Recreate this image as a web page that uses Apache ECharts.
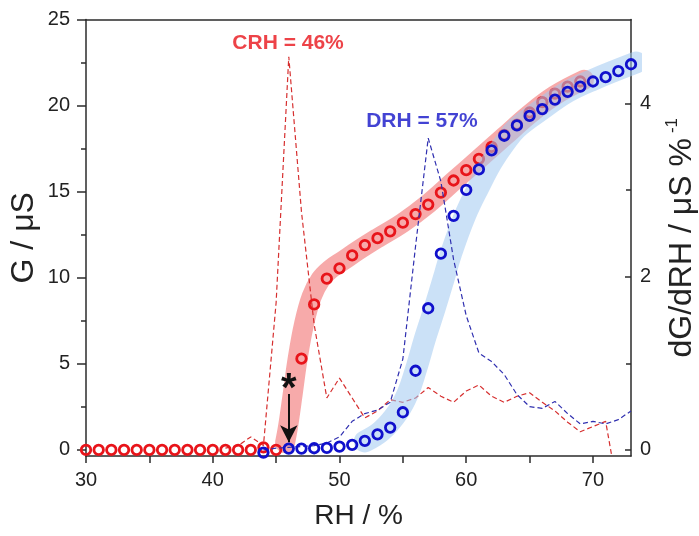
<!DOCTYPE html>
<html>
<head>
<meta charset="utf-8">
<script src="https://cdn.jsdelivr.net/npm/echarts@6/dist/echarts.min.js"></script>
<style>html,body{margin:0;padding:0;background:#fff}#c{width:699px;height:536px}</style>
</head>
<body>
<div id="c"></div>
<script>
// ---- data ----
const rhRed = [30,31,32,33,34,35,36,37,38,39,40,41,42,43,44,45,47,48,49,50,51,52,53,54,55,56,57,58,59,60,61,62,63,64,65,66,67,68,69];
const gRed  = [0,0,0,0,0,0,0,0,0,0,0,0,0,0,0.15,0,5.3,8.45,9.95,10.55,11.3,11.9,12.3,12.7,13.2,13.7,14.25,14.95,15.65,16.25,16.9,17.6,18.3,18.9,19.6,20.2,20.7,21.1,21.4];
const rhBlue = [44,46,47,48,49,50,51,52,53,54,55,56,57,58,59,60,61,62,63,64,65,66,67,68,69,70,71,72,73];
const gBlue  = [-0.15,0.08,0.08,0.1,0.12,0.2,0.3,0.53,0.91,1.3,2.19,4.6,8.23,11.4,13.6,15.1,16.3,17.4,18.25,18.85,19.4,19.8,20.35,20.8,21.1,21.4,21.65,22.0,22.4];
const rhDRed = [41,42,43,44,45,46,47,48,49,50,51,52,53,54,55,56,57,58,59,60,61,62,63,64,65,66,67,68,69,70,71,72];
const dRed   = [0.02,0.05,0.15,0.05,1.7,4.54,2.75,1.45,0.6,0.83,0.6,0.37,0.45,0.58,0.55,0.6,0.72,0.62,0.55,0.68,0.75,0.62,0.55,0.62,0.66,0.55,0.45,0.32,0.21,0.27,0.33,-0.5];
const rhDBlue = [44,45,46,47,48,49,50,51,52,53,54,55,56,57,58,59,60,61,62,63,64,65,66,67,68,69,70,71,72,73];
const dBlue   = [0,0.02,0.03,0.04,0.05,0.08,0.15,0.33,0.42,0.46,0.55,1.05,2.35,3.6,3.1,2.2,1.55,1.12,1.02,0.87,0.64,0.5,0.48,0.56,0.42,0.3,0.33,0.3,0.35,0.45];
const redBandX = [45.7,45.95,46.3,46.7,47.2,47.8,48.5,49.3,50.3,51.5,53,55,57,59,61,63,65,67,69.3];
const redBandY = [0.4,1.4,3.2,5.3,7.3,8.9,9.9,10.5,11.0,11.6,12.3,13.2,14.3,15.6,16.9,18.2,19.5,20.6,21.5];
const blueBandX = [52.0,53.3,54.6,55.4,56.0,56.8,57.5,58.2,58.8,59.9,61,62,63,64,66,68,70,73.4];
const blueBandY = [0.5,1.1,2.2,3.3,4.6,6.6,8.2,9.9,11.4,13.6,15.3,16.7,17.8,18.7,19.8,20.8,21.5,22.5];
const xTicks = [30,40,50,60,70];
const xTickMarks = [30,35,40,45,50,55,60,65,70];
const yLeftTicks = [0,5,10,15,20,25];
const yLeftMinor = [2.5,7.5,12.5,17.5,22.5];
const yRightTicks = [0,2,4];
const yRightMinor = [1,3];
const annotations = [
  {x:45.94, y:23.65, text:'CRH = 46%', color:'#e8141a'},
  {x:56.5, y:19.07, text:'DRH = 57%', color:'#1414c8'}
];
const starPos = [46, 3.5];
const arrowFrom = [46, 3.25];
const arrowTo = [46, 0.45];

const zip = (a,b) => a.map((v,i)=>[v,b[i]]);
const FONT = "'Liberation Sans', Arial, sans-serif";
const AX = '#2b2b2b';

const chart = echarts.init(document.getElementById('c'), null, {renderer:'canvas'});
const option = {
  animation: false,
  grid: {left: 86, right: 68, top: 19.5, bottom: 80, containLabel:false, outerBoundsMode:'none'},
  xAxis: [
    {type:'value', min:30, max:73, position:'bottom',
     name:'RH / %', nameLocation:'middle', nameGap:46, nameMoveOverlap:false,
     nameTextStyle:{fontFamily:FONT, fontSize:28, color:'#222'},
     axisLine:{onZero:false, lineStyle:{color:AX, width:1.5}},
     axisTick:{show:true, inside:false, length:7, customValues:xTickMarks, lineStyle:{color:AX, width:1.5}},
     axisLabel:{customValues:xTicks, margin:14, fontFamily:FONT, fontSize:20, color:'#222'},
     splitLine:{show:false}},
    {type:'value', min:30, max:73, position:'top',
     axisLine:{onZero:false, lineStyle:{color:AX, width:1.5}},
     axisTick:{show:false}, axisLabel:{show:false}, splitLine:{show:false}}
  ],
  yAxis: [
    {type:'value', min:-0.35, max:25, position:'left',
     name:'G / μS', nameLocation:'middle', nameGap:46, nameRotate:90, nameMoveOverlap:false,
     nameTextStyle:{fontFamily:FONT, fontSize:32, color:'#222'},
     axisLine:{show:true, onZero:false, lineStyle:{color:AX, width:1.5}},
     axisTick:{show:true, inside:false, length:9, customValues:yLeftTicks, lineStyle:{color:AX, width:1.5}},
     axisLabel:{customValues:yLeftTicks, margin:16, fontFamily:FONT, fontSize:20, color:'#222'},
     splitLine:{show:false}},
    {type:'value', min:-0.07, max:4.97, position:'right',
     name:'{m|dG/dRH / μS %}{s|-1}', nameLocation:'middle', nameGap:33, nameRotate:90, nameMoveOverlap:false,
     nameTextStyle:{fontFamily:FONT, fontSize:32, color:'#222',
       rich:{m:{fontFamily:FONT, fontSize:32, color:'#222'}, s:{fontFamily:FONT, fontSize:17, color:'#222', verticalAlign:'top', padding:[0,0,20,5]}}},
     axisLine:{show:true, onZero:false, lineStyle:{color:AX, width:1.5}},
     axisTick:{show:true, inside:true, length:6, customValues:yRightTicks, lineStyle:{color:AX, width:1.5}},
     axisLabel:{customValues:yRightTicks, margin:9, fontFamily:FONT, fontSize:20, color:'#222'},
     splitLine:{show:false}},
    {type:'value', min:-0.35, max:25, position:'left',
     axisLine:{show:false}, axisLabel:{show:false}, splitLine:{show:false},
     axisTick:{show:true, inside:false, length:5, customValues:yLeftMinor, lineStyle:{color:AX, width:1.5}}},
    {type:'value', min:-0.07, max:4.97, position:'right',
     axisLine:{show:false}, axisLabel:{show:false}, splitLine:{show:false},
     axisTick:{show:true, inside:true, length:5, customValues:yRightMinor, lineStyle:{color:AX, width:1.5}}}
  ],
  series: [
    {name:'redBand', type:'line', xAxisIndex:0, yAxisIndex:0, data:zip(redBandX, redBandY),
     smooth:0.4, showSymbol:false, symbol:'none', silent:true,
     lineStyle:{color:'rgba(240,100,100,0.55)', width:20, cap:'round', join:'round'}, z:1},
    {name:'redDash', type:'line', xAxisIndex:0, yAxisIndex:1, data:zip(rhDRed, dRed),
     symbol:'none', silent:true, clip:true,
     lineStyle:{color:'#d62f2f', width:1.2, type:[5,3]}, z:2},
    {name:'redG', type:'scatter', xAxisIndex:0, yAxisIndex:0, data:zip(rhRed, gRed),
     symbol:'circle', symbolSize:9.5, itemStyle:{color:'rgba(255,255,255,0)', borderColor:'#e8141a', borderWidth:2.8, opacity:1}, z:3},
    {name:'blueBand', type:'line', xAxisIndex:0, yAxisIndex:0, data:zip(blueBandX, blueBandY),
     smooth:0.4, showSymbol:false, symbol:'none', silent:true,
     lineStyle:{color:'rgba(160,200,240,0.55)', width:22, cap:'round', join:'round'}, z:4},
    {name:'blueDash', type:'line', xAxisIndex:0, yAxisIndex:1, data:zip(rhDBlue, dBlue),
     symbol:'none', silent:true, clip:true,
     lineStyle:{color:'#3030b0', width:1.2, type:[5,3]}, z:5},
    {name:'blueG', type:'scatter', xAxisIndex:0, yAxisIndex:0, data:zip(rhBlue, gBlue),
     symbol:'circle', symbolSize:9.5, clip:false, itemStyle:{color:'rgba(255,255,255,0)', borderColor:'#1010cc', borderWidth:2.8, opacity:1}, z:6},
    {name:'notes', type:'scatter', xAxisIndex:0, yAxisIndex:0, silent:true, z:8,
     data: annotations.map(a => ({value:[a.x, a.y], label:{color:a.color}, name:a.text})),
     symbolSize:0,
     label:{show:true, position:'inside', formatter:p=>p.name, fontFamily:FONT, fontSize:21, fontWeight:'bold'},
     markPoint:{symbol:'circle', symbolSize:0, silent:true,
       data:[{coord:starPos, label:{show:true, position:'inside', formatter:'*', fontFamily:FONT, fontSize:40, fontWeight:'bold', color:'#111'}}]},
     markLine:{silent:true, symbol:['none','arrow'], symbolSize:[13,17], label:{show:false},
       lineStyle:{color:'#111', width:2, type:'solid'},
       data:[[{coord:arrowFrom},{coord:arrowTo}]]}
    }
  ]
};
chart.setOption(option);
</script>
</body>
</html>
